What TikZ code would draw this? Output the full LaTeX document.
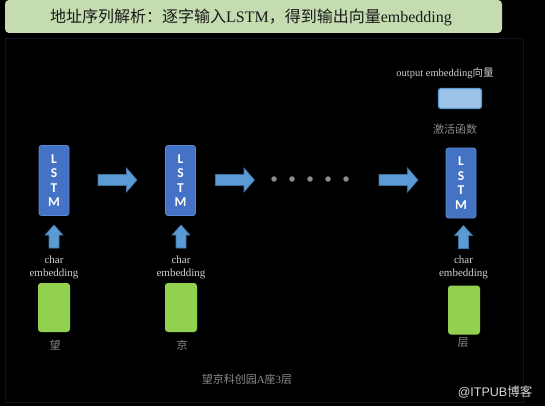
\documentclass[tikz,border=0pt]{standalone}
\usepackage{fontspec}
\setmainfont{Liberation Serif}
\newfontfamily\cjk{Noto Sans CJK SC}
\newfontfamily\lsans{Carlito}
\newfontfamily\wsans{Liberation Sans}
\definecolor{titlegreen}{HTML}{C5DCB0}
\definecolor{lstmblue}{HTML}{4472C4}
\definecolor{lstmedge}{HTML}{5B86D0}
\definecolor{arrowfill}{HTML}{5B9BD5}
\definecolor{arrowedge}{HTML}{41719C}
\definecolor{embgreen}{HTML}{92D050}
\definecolor{outfill}{HTML}{9DC3E6}
\definecolor{labgray}{HTML}{8C8C8C}
\definecolor{txtlight}{HTML}{CFCFCF}
\definecolor{frame}{HTML}{101318}
\tikzset{
  lstmbox/.style={draw=lstmedge, line width=0.8pt, fill=lstmblue, rounded corners=2.5pt,
    minimum width=30pt, minimum height=70pt, inner sep=0pt, text=white, align=center,
    font={\lsans\bfseries\fontsize{13.5}{14.5}\selectfont}},
  embbox/.style={fill=embgreen, rounded corners=3pt, minimum width=32pt, minimum height=49pt, inner sep=0pt},
  arrowstyle/.style={fill=arrowfill, draw=arrowedge, line width=0.6pt},
  rarrow/.pic={\path[arrowstyle] (-19.5,-5.5) -- (9,-5.5) -- (9,-12) -- (19.5,0) -- (9,12) -- (9,5.5) -- (-19.5,5.5) -- cycle;},
  uarrow/.pic={\path[arrowstyle] (-5,11.5) -- (-5,-1.5) -- (-9,-1.5) -- (0,-11.5) -- (9,-1.5) -- (5,-1.5) -- (5,11.5) -- cycle;},
  dotc/.style={circle, fill=labgray, minimum size=5.5pt, inner sep=0pt},
  charlab/.style={text=txtlight, align=center, inner sep=0pt, font={\fontsize{11}{13}\selectfont}},
  cjklab/.style={text=labgray, inner sep=0pt, font={\cjk\fontsize{11}{11}\selectfont}}
}
\begin{document}
\begin{tikzpicture}[x=1pt,y=-1pt]
\fill[black] (0,0) rectangle (545,406);
\useasboundingbox (0,0) rectangle (545,406);
\draw[frame, line width=0.8pt] (5,38) rectangle (523,402);
% title
\node[fill=titlegreen, rounded corners=4pt, minimum width=497pt, minimum height=33pt, inner sep=0pt] (title) at (253.5,16.5) {};
\node[text={rgb,255:red,25;green,25;blue,25}, inner sep=0pt, font={\cjk\fontsize{16}{16}\selectfont}] (titletext) at (251,17)
  {地址序列解析：逐字输入{\rmfamily LSTM}，得到输出向量{\rmfamily embedding}};
% LSTM boxes
\node[lstmbox] (l1) at (54,180.5) {L\\S\\T\\M};
\node[lstmbox] (l2) at (180.5,180.5) {L\\S\\T\\M};
\node[lstmbox] (l3) at (461,183) {L\\S\\T\\M};
% right arrows
\pic (r1) at (117.5,180) {rarrow};
\pic (r2) at (235,180) {rarrow};
\pic (r3) at (398.5,180) {rarrow};
% dots
\foreach \i/\x in {1/274,2/292,3/310,4/328,5/346}{\node[dotc] (d\i) at (\x,179) {};}
% up arrows
\pic (u1) at (54,236.5) {uarrow};
\pic (u2) at (181,236.5) {uarrow};
\pic (u3) at (463.5,237) {uarrow};
% char embedding labels
\node[charlab] (c1) at (54,267) {char\\embedding};
\node[charlab] (c2) at (181,267) {char\\embedding};
\node[charlab] (c3) at (463.5,267) {char\\embedding};
% green boxes
\node[embbox] (e1) at (54,307.5) {};
\node[embbox] (e2) at (181,307.5) {};
\node[embbox] (e3) at (464,310) {};
% characters
\node[cjklab] (k1) at (55,345) {望};
\node[cjklab] (k2) at (182,345) {京};
\node[cjklab] (k3) at (463,343) {层};
% output
\node[text=txtlight, inner sep=0pt, font={\fontsize{10.5}{10.5}\selectfont}] (outlab) at (445,73) {output embedding{\cjk 向量}};
\node[fill=outfill, draw=arrowfill, line width=1.2pt, rounded corners=2.5pt, minimum width=43pt, minimum height=20pt, inner sep=0pt] (out) at (460,98.5) {};
\node[cjklab] (act) at (455,129) {激活函数};
% bottom
\node[cjklab] (addr) at (247,379) {望京科创园{\rmfamily A}座{\rmfamily 3}层};
\node[text={rgb,255:red,215;green,215;blue,215}, inner sep=0pt, font={\wsans\fontsize{12.5}{12.5}\selectfont}] (wm) at (495,392) {@ITPUB{\cjk 博客}};
\end{tikzpicture}
\end{document}
